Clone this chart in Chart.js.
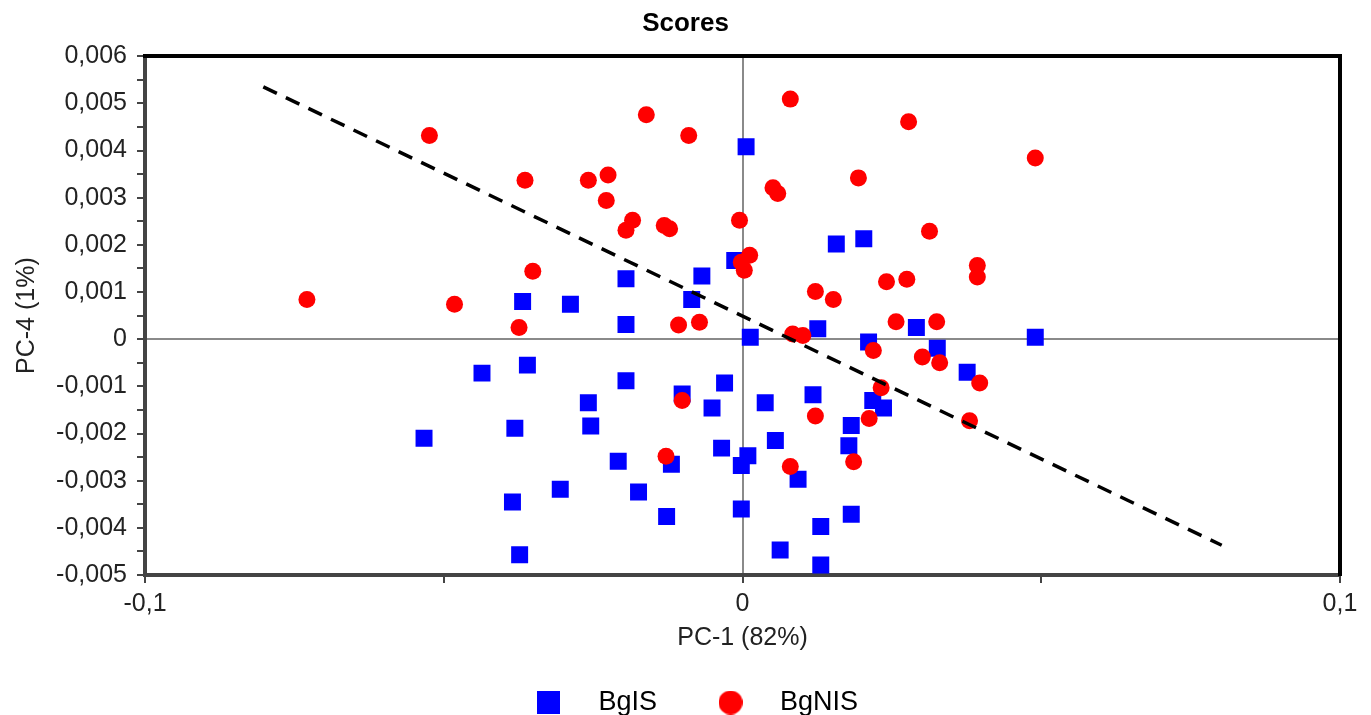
<!DOCTYPE html>
<html>
<head>
<meta charset="utf-8">
<script src="https://cdn.jsdelivr.net/npm/chart.js@4.4.1/dist/chart.umd.min.js"></script>
<style>
  html, body { margin: 0; padding: 0; background: #fff; }
  #wrap { width: 1371px; height: 715px; position: relative; }
</style>
</head>
<body>
<div id="wrap"><canvas id="scoresChart"></canvas></div>
<script>
// PC scores
const bgisX = [0.0006, -0.0195, -0.0068, -0.0013, -0.0368, -0.0288, -0.0085, -0.0195, 0.0157, 0.0203,
  0.0126, 0.0291, 0.0013, 0.0490, -0.0436, -0.0360, -0.0195, -0.0030, -0.0101, -0.0258,
  -0.0051, -0.0533, -0.0381, -0.0254, -0.0035, -0.0208, -0.0119, 0.0009, -0.0002, -0.0305,
  -0.0174, -0.0385, -0.0127, -0.0002, -0.0373, 0.0211, 0.0326, 0.0376, 0.0038, 0.0118,
  0.0218, 0.0236, 0.0182, 0.0055, 0.0178, 0.0093, 0.0182, 0.0131, 0.0063, 0.0131];
const bgisY = [0.00408, 0.00128, 0.00134, 0.00167, 0.0008, 0.00074, 0.00084, 0.00031, 0.00202, 0.00213,
  0.00022, 0.00025, 0.00004, 0.00004, -0.00072, -0.00055, -0.00088, -0.00093, -0.00116, -0.00135,
  -0.00146, -0.0021, -0.00189, -0.00184, -0.00231, -0.00259, -0.00265, -0.00247, -0.00268, -0.00318,
  -0.00324, -0.00345, -0.00376, -0.0036, -0.00457, -0.00006, -0.00019, -0.0007, -0.00135, -0.00118,
  -0.0013, -0.00146, -0.00183, -0.00215, -0.00226, -0.00297, -0.00371, -0.00397, -0.00447, -0.00479];

const bgnisX = [-0.0729, -0.0524, -0.0161, -0.0090, -0.0364, -0.0258, -0.0225, -0.0228, -0.0184, -0.0195,
  -0.0131, -0.0122, -0.0005, -0.0351, -0.0482, -0.0374, -0.0107, -0.0072, 0.0012, -0.0002,
  0.0003, 0.0080, 0.0278, 0.0490, 0.0051, 0.0059, 0.0194, 0.0313, 0.0393, 0.0393,
  0.0241, 0.0275, 0.0122, 0.0152, 0.0257, 0.0325, 0.0084, 0.0101, -0.0101, -0.0128,
  0.0219, 0.0301, 0.0330, 0.0397, 0.0232, 0.0122, 0.0212, 0.0380, 0.0080, 0.0186];
const bgnisY = [0.00084, 0.00432, 0.00476, 0.00432, 0.00337, 0.00337, 0.00348, 0.00294, 0.00252, 0.00231,
  0.00241, 0.00234, 0.00252, 0.00144, 0.00074, 0.00025, 0.0003, 0.00036, 0.00178, 0.00163,
  0.00146, 0.00509, 0.00461, 0.00384, 0.00321, 0.00309, 0.00342, 0.00229, 0.00156, 0.00132,
  0.00122, 0.00127, 0.00101, 0.00084, 0.00037, 0.00037, 0.00011, 0.00008, -0.0013, -0.00248,
  -0.00024, -0.00038, -0.0005, -0.00093, -0.00103, -0.00163, -0.00168, -0.00173, -0.0027, -0.0026];

// dashed separating line, end points
const sepX = [-0.0802, 0.0802];
const sepY = [0.00535, -0.00437];

const xLimits = [-0.1, 0.1];
const yLimits = [-0.005, 0.006];

const toPoints = (xs, ys) => xs.map((x, i) => ({x: x, y: ys[i]}));
const FONT = "'Liberation Sans', Arial, sans-serif";

// legend markers
function markerCanvas(kind, color, size) {
    const c = document.createElement('canvas');
    c.width = size; c.height = size;
    const g = c.getContext('2d');
    g.fillStyle = color;
    if (kind === 'square') {
        g.fillRect(0, 0, size, size);
    } else {
        g.beginPath();
        g.arc(size / 2, size / 2, size / 2, 0, Math.PI * 2);
        g.fill();
    }
    return c;
}
const legendSquare = markerCanvas('square', '#0000ff', 23);
const legendCircle = markerCanvas('circle', '#ff0000', 24);

function fmt(v, decimals) {
    if (Math.abs(v) < 1e-12) return '0';
    return v.toFixed(decimals).replace('.', ',');
}

const ctx = document.getElementById('scoresChart');

new Chart(ctx, {
    type: 'scatter',
    data: {
        datasets: [{
            label: 'BgIS',
            data: toPoints(bgisX, bgisY),
            pointStyle: 'rect',
            pointRadius: 12,
            pointHoverRadius: 12,
            borderWidth: 0,
            backgroundColor: '#0000ff',
            order: 3
        }, {
            label: 'BgNIS',
            data: toPoints(bgnisX, bgnisY),
            pointStyle: 'circle',
            pointRadius: 8.5,
            pointHoverRadius: 8.5,
            borderWidth: 0,
            backgroundColor: '#ff0000',
            order: 2
        }, {
            type: 'line',
            label: 'sep',
            data: toPoints(sepX, sepY),
            borderColor: '#000',
            borderWidth: 3.5,
            borderDash: [15, 10],
            pointRadius: 0,
            fill: false,
            order: 1
        }]
    },
    options: {
        responsive: true,
        maintainAspectRatio: false,
        animation: false,
        devicePixelRatio: 1,
        layout: { padding: { top: 0, left: 0, right: 0, bottom: -11 } },
        plugins: {
            tooltip: { enabled: false },
            title: {
                display: true,
                text: 'Scores',
                color: '#000',
                font: { family: FONT, size: 26, weight: 'bold' },
                padding: { top: 8, bottom: 17 }
            },
            legend: {
                position: 'bottom',
                labels: {
                    usePointStyle: true,
                    pointStyleWidth: 72,
                    padding: 15,
                    color: '#000',
                    font: { family: FONT, size: 27 },
                    generateLabels: () => [
                        { text: 'BgIS\u00a0\u00a0\u00a0', pointStyle: legendSquare, fillStyle: '#0000ff',
                          strokeStyle: '#0000ff', lineWidth: 0, hidden: false, datasetIndex: 0, fontColor: '#000' },
                        { text: 'BgNIS', pointStyle: legendCircle, fillStyle: '#ff0000',
                          strokeStyle: '#ff0000', lineWidth: 0, hidden: false, datasetIndex: 1, fontColor: '#000' }
                    ]
                }
            }
        },
        scales: {
            x: {
                type: 'linear',
                position: 'bottom',
                min: xLimits[0],
                max: xLimits[1],
                afterFit: s => { s.height = 99; },
                ticks: {
                    stepSize: 0.05,
                    maxRotation: 0,
                    autoSkip: false,
                    padding: 6,
                    color: '#222',
                    font: { family: FONT, size: 25 },
                    callback: v => (Math.round(v * 20) % 2 !== 0 ? '' : fmt(v, 1))
                },
                grid: {
                    drawOnChartArea: true,
                    color: c => (c.tick && Math.abs(c.tick.value) < 1e-12 ? '#8a8a8a' : 'rgba(0,0,0,0)'),
                    lineWidth: 2,
                    tickColor: '#444',
                    tickWidth: 2,
                    tickLength: 8
                },
                border: { color: '#444', width: 4 },
                title: {
                    display: true,
                    text: 'PC-1 (82%)',
                    color: '#222',
                    font: { family: FONT, size: 25 },
                    padding: { top: 0, bottom: 21 }
                }
            },
            y: {
                type: 'linear',
                position: 'left',
                min: yLimits[0],
                max: yLimits[1],
                afterFit: s => { s.width = 145; },
                ticks: {
                    stepSize: 0.0005,
                    autoSkip: false,
                    padding: 10,
                    color: '#222',
                    font: { family: FONT, size: 25 },
                    callback: v => (Math.round(v * 2000) % 2 !== 0 ? '' : fmt(v, 3))
                },
                grid: {
                    drawOnChartArea: true,
                    color: c => (c.tick && Math.abs(c.tick.value) < 1e-12 ? '#8a8a8a' : 'rgba(0,0,0,0)'),
                    lineWidth: 2,
                    tickColor: '#444',
                    tickWidth: 2,
                    tickLength: 8
                },
                border: { color: '#444', width: 4 },
                title: {
                    display: true,
                    text: 'PC-4 (1%)',
                    color: '#222',
                    font: { family: FONT, size: 25 },
                    padding: { top: 12, bottom: 0 }
                }
            },
            xTop: {
                type: 'linear',
                position: 'top',
                min: xLimits[0],
                max: xLimits[1],
                ticks: { display: false },
                grid: { drawOnChartArea: false, drawTicks: false },
                border: { color: '#000', width: 4 }
            },
            yRight: {
                type: 'linear',
                position: 'right',
                min: yLimits[0],
                max: yLimits[1],
                afterFit: s => { s.width = 31; },
                ticks: { display: false },
                grid: { drawOnChartArea: false, drawTicks: false },
                border: { color: '#000', width: 4 }
            }
        }
    }
});
</script>
</body>
</html>
